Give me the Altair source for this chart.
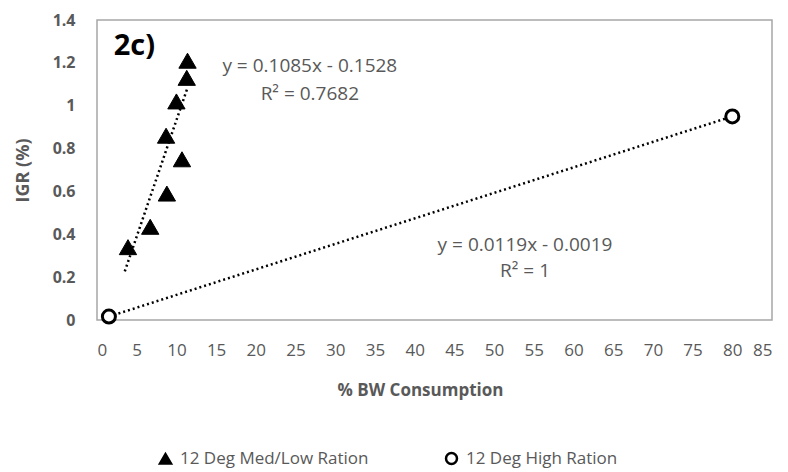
import altair as alt
import pandas as pd

# Data
med_x = [3.9, 6.7, 8.8, 10.7, 8.7, 10.0, 11.3, 11.4]
med_y = [0.34, 0.435, 0.59, 0.75, 0.86, 1.02, 1.13, 1.21]
high_x = [1.5, 80.0]
high_y = [0.016, 0.95]
series_names = ["12 Deg Med/Low Ration", "12 Deg High Ration"]
fit_med = (0.1085, -0.1528)
fit_high = (0.0119, -0.0019)
r2_med = "0.7682"
r2_high = "1"
x_ticks = list(range(0, 90, 5))
y_ticks = [0, 0.2, 0.4, 0.6, 0.8, 1.0, 1.2, 1.4]

FONT = "Open Sans"
GRAY = "#595959"

pts_med = pd.DataFrame({"x": med_x, "y": med_y, "series": series_names[0]})
pts_high = pd.DataFrame({"x": high_x, "y": high_y, "series": series_names[1]})

def trend(xs, fit):
    lo, hi = min(xs), max(xs)
    return pd.DataFrame({"x": [lo, hi], "y": [fit[0] * lo + fit[1], fit[0] * hi + fit[1]]})

tr_med = trend([3.5] + med_x, fit_med)
tr_high = trend(high_x, fit_high)

xscale = alt.Scale(domain=[0, 85], nice=False)
yscale = alt.Scale(domain=[0, 1.4], nice=False)

xaxis = alt.Axis(
    values=x_ticks, format="~g", labelOverlap=False, title="% BW Consumption", grid=False,
    domain=False, ticks=False, labelPadding=22, labelFontSize=17, labelColor=GRAY, labelFont=FONT,
    titleFont=FONT, titleFontSize=17, titleColor=GRAY, titleFontWeight="bold",
    titleX=323, titleY=70, titleBaseline="middle")
yaxis = alt.Axis(
    values=y_ticks, format="~g", labelOverlap=False, title="IGR (%)", grid=False,
    domain=False, ticks=False, labelPadding=22, labelFontSize=16, labelColor=GRAY, labelFont=FONT,
    labelFontWeight="bold",
    titleFont=FONT, titleFontSize=18, titleColor=GRAY, titleFontWeight="bold",
    titleX=-74, titleY=150, titleBaseline="middle", titleAngle=-90)

def X():
    return alt.X("x:Q", scale=xscale, axis=xaxis)

def Y():
    return alt.Y("y:Q", scale=yscale, axis=yaxis)

dash = dict(color="black", strokeWidth=2.5, strokeDash=[2, 3])
line_med = alt.Chart(tr_med).mark_line(**dash).encode(x=X(), y=Y())
line_high = alt.Chart(tr_high).mark_line(**dash).encode(x=X(), y=Y())

shape_scale = alt.Scale(domain=series_names, range=["triangle-up", "circle"])
fill_scale = alt.Scale(domain=series_names, range=["black", "white"])
stroke_scale = alt.Scale(domain=series_names, range=["black", "black"])
legend = alt.Legend(title=None, orient="none", legendX=60, legendY=430, direction="horizontal",
                    labelFont=FONT, labelFontSize=17, labelColor=GRAY, labelLimit=400,
                    symbolSize=120, symbolStrokeWidth=2.5, columnPadding=72, labelOffset=6)

def enc_points(ch):
    return ch.encode(
        x=X(), y=Y(),
        shape=alt.Shape("series:N", scale=shape_scale, legend=legend),
        fill=alt.Fill("series:N", scale=fill_scale, legend=legend),
        stroke=alt.Stroke("series:N", scale=stroke_scale, legend=legend))

p_med = enc_points(alt.Chart(pts_med).mark_point(size=300, strokeWidth=1, opacity=1))
p_high = enc_points(alt.Chart(pts_high).mark_point(size=170, strokeWidth=3, opacity=1))

ann = pd.DataFrame({
    "x": [26.8, 26.8, 53.9, 53.9],
    "y": [1.184, 1.057, 0.349, 0.231],
    "t": [f"y = {fit_med[0]}x - {abs(fit_med[1])}", f"R² = {r2_med}",
          f"y = {fit_high[0]}x - {abs(fit_high[1]):.4f}", f"R² = {r2_high}"],
})
txt = alt.Chart(ann).mark_text(font=FONT, fontSize=19, color=GRAY).encode(x=X(), y=Y(), text="t:N")

lab = alt.Chart(pd.DataFrame({"x": [2.1], "y": [1.278], "t": ["2c)"]})).mark_text(
    font=FONT, fontSize=29, fontWeight="bold", color="black", align="left").encode(
    x=X(), y=Y(), text="t:N")

chart = alt.layer(line_med, line_high, p_med, p_high, txt, lab).properties(
    width=675, height=300,
    autosize=alt.AutoSizeParams(type="none"),
    padding={"left": 97, "top": 20, "right": 16, "bottom": 152},
    background="white",
).configure_view(stroke="#a6a6a6", strokeWidth=1.5)

chart.save("out.html", embed_options={"renderer": "svg", "actions": False})
